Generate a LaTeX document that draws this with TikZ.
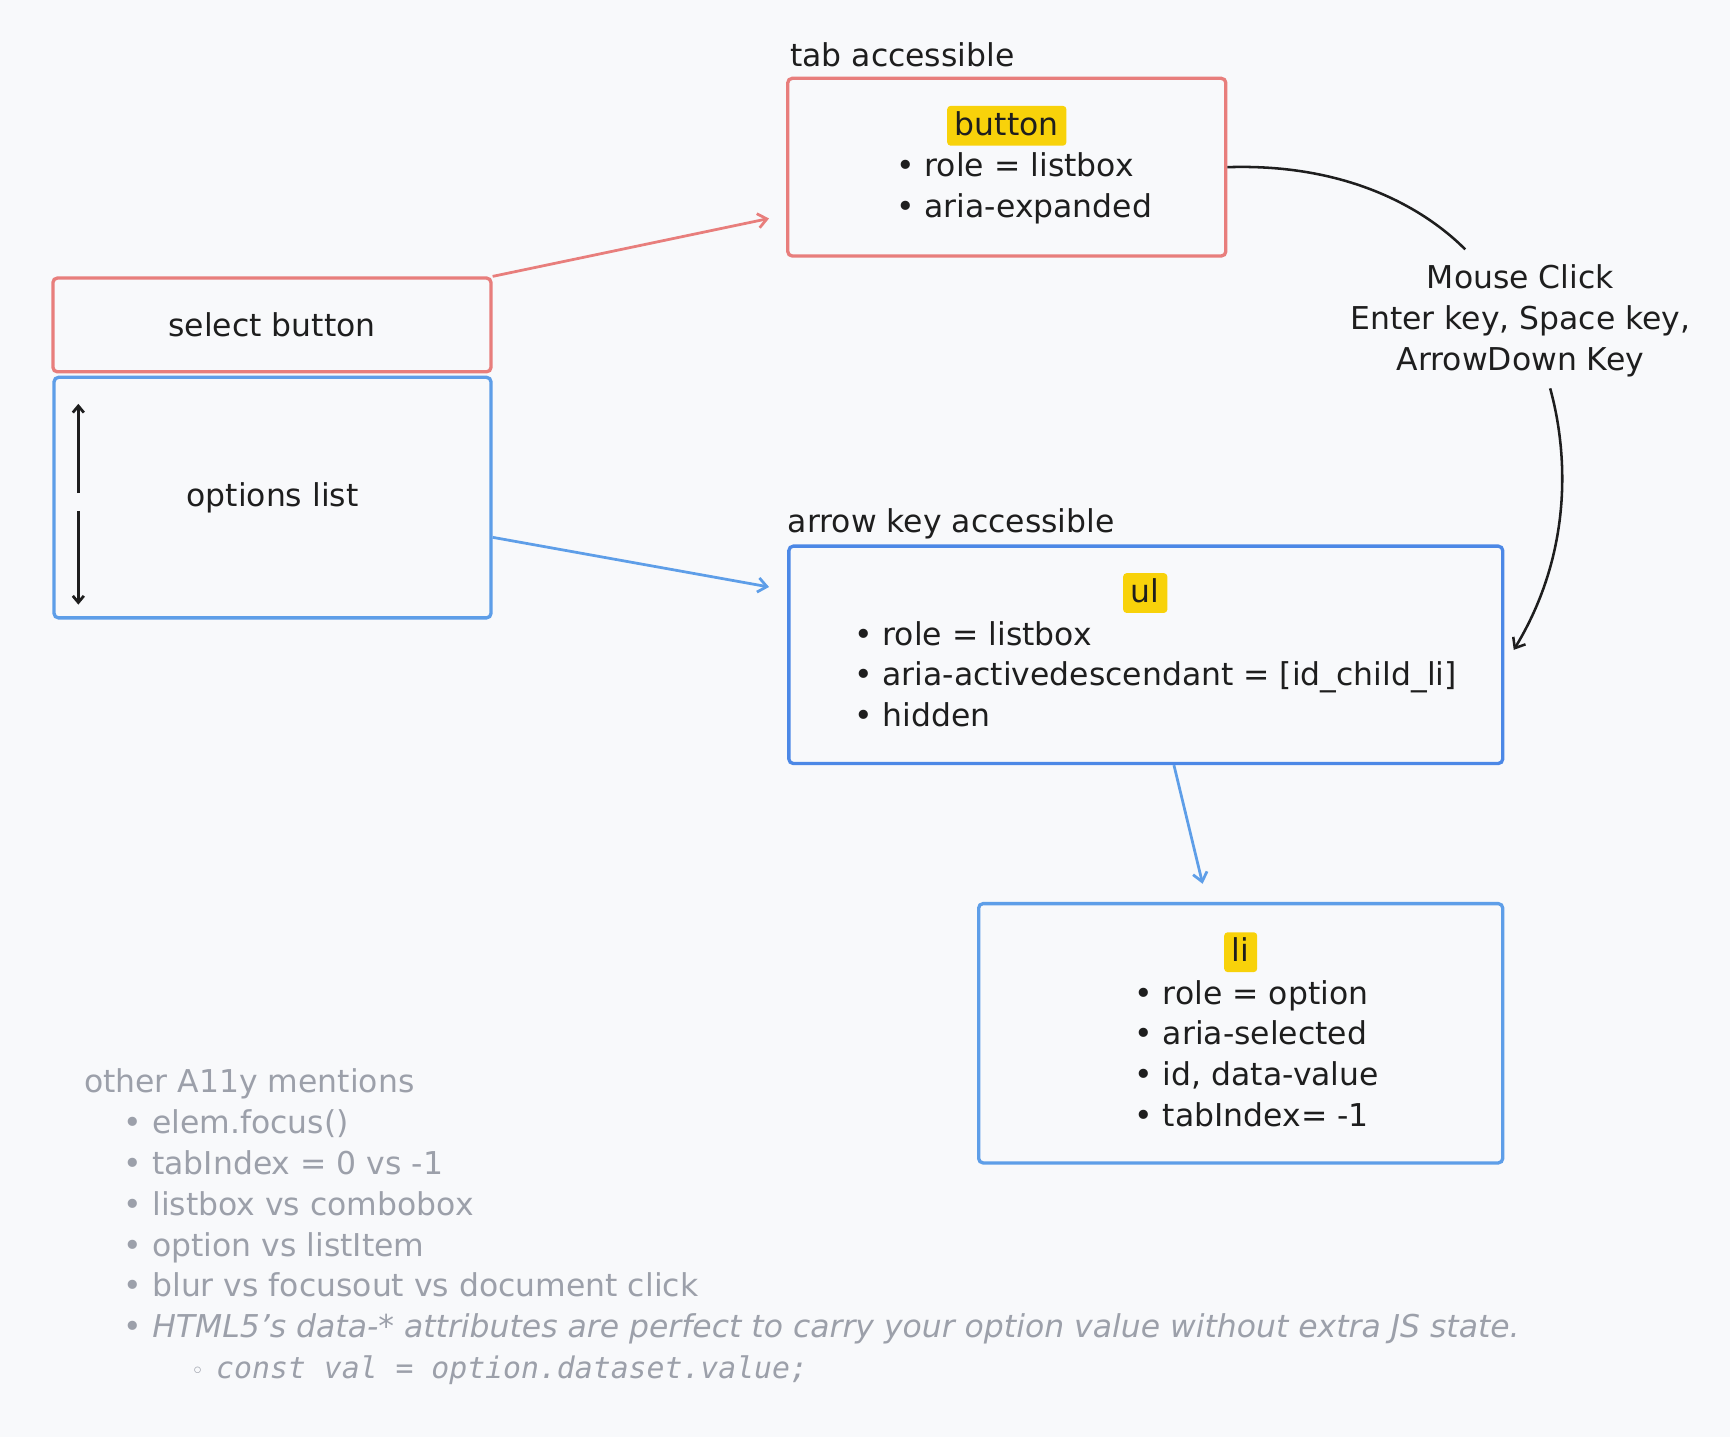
\documentclass[tikz,border=0pt]{standalone}
\usepackage{fontspec}
\setmainfont{DejaVu Sans}
\setmonofont{DejaVu Sans Mono}
\usetikzlibrary{arrows.meta,positioning}
\definecolor{pagebg}{RGB}{248,249,251}
\definecolor{boxred}{RGB}{232,126,124}
\definecolor{boxblue}{RGB}{94,158,232}
\definecolor{ulblue}{RGB}{76,136,230}
\definecolor{tagyellow}{RGB}{248,210,10}
\definecolor{inkblack}{RGB}{30,30,30}
\definecolor{notegray}{RGB}{156,160,170}
\tikzset{
  box/.style={draw,line width=3pt,rounded corners=4pt,inner sep=0pt},
  tag/.style={fill=tagyellow,rounded corners=3pt,inner xsep=7pt,minimum height=36pt,text height=21pt,text depth=4pt},
  itemlist/.style={align=left,anchor=west,inner sep=0pt},
  heading/.style={anchor=base west,inner sep=0pt},
  link/.style={line width=2.5pt,-{Straight Barb[length=8pt,width=13pt]}},
  scroll/.style={line width=2.5pt,inkblack,-{Straight Barb[length=6pt,width=10pt]}},
}
\begin{document}
\begin{tikzpicture}[x=1pt,y=-1pt,font=\fontsize{28.5}{37}\selectfont,text=inkblack]
\fill[pagebg] (0,0) rectangle (1568,1302);
\useasboundingbox (0,0) rectangle (1568,1302);

\node[box,draw=boxred,minimum width=397pt,minimum height=85pt] (selbtn) at (246.5,294.5) {select button};
\node[box,draw=boxblue,minimum width=396pt,minimum height=218pt] (optlist) at (247,451) {options list};
\coordinate (scrolltop) at (71,366);
\coordinate (scrollbot) at (71,548);
\draw[scroll] (71,447) -- (scrolltop);
\draw[scroll] (71,463) -- (scrollbot);

\node[heading] (tablabel) at (716,60) {tab accessible};
\node[box,draw=boxred,minimum width=397pt,minimum height=161pt] (tabbox) at (912.5,151.5) {};
\node[tag] (btntag) at (912.5,114) {button};
\node[itemlist] (btnitems) at (812,171) {• role = listbox\\• aria-expanded};

\node[heading] (arrowlabel) at (714,483) {arrow key accessible};
\node[box,draw=ulblue,minimum width=647pt,minimum height=197pt] (ulbox) at (1038.5,593.5) {};
\node[tag] (ultag) at (1038,537.5) {ul};
\node[itemlist] (ulitems) at (774,611) {• role = listbox\\• aria-activedescendant = [id\_child\_li]\\• hidden};

\node[box,draw=boxblue,minimum width=475pt,minimum height=235pt] (libox) at (1124.5,936.5) {};
\node[tag] (litag) at (1124.5,863) {li};
\node[itemlist] (liitems) at (1028,955) {• role = option\\• aria-selected\\• id, data-value\\• tabIndex= -1};

\node[align=center,inner sep=0pt] (clicklabel) at (1378,291) {Mouse Click\\Enter key, Space key,\\ArrowDown Key};

\coordinate (tabin) at (697,198);
\coordinate (ulin) at (697,532);
\coordinate (lientry) at (1090,801);
\coordinate (clickin) at (1328,226);
\coordinate (clickout) at (1405,352);
\coordinate (ulhit) at (1372,589);
\draw[link,boxred] (selbtn.north east) -- (tabin);
\draw[link,boxblue] ([yshift=-36pt]optlist.east) -- (ulin);
\draw[link,boxblue] ([xshift=25.5pt]ulbox.south) -- (lientry);
\draw[line width=2.3pt,inkblack] (tabbox.east) .. controls (1220,148) and (1290,188) .. (clickin);
\draw[link,line width=2.3pt,inkblack] (clickout) .. controls (1421,410) and (1426,500) .. (ulhit);

\node[itemlist,text=notegray] (notes) at (76,1112) {other A11y mentions\\
\hspace{36pt}• elem.focus()\\
\hspace{36pt}• tabIndex = 0 vs -1\\
\hspace{36pt}• listbox vs combobox\\
\hspace{36pt}• option vs listItem\\
\hspace{36pt}• blur vs focusout vs document click\\
\hspace{36pt}• {\itshape HTML5’s data-* attributes are perfect to carry your option value without extra JS state.}\\
\hspace{97pt}{\fontsize{20}{37}\selectfont ◦}\hspace{11pt}{\ttfamily\itshape\fontsize{27}{37}\selectfont const val = option.dataset.value;}};
\end{tikzpicture}
\end{document}
